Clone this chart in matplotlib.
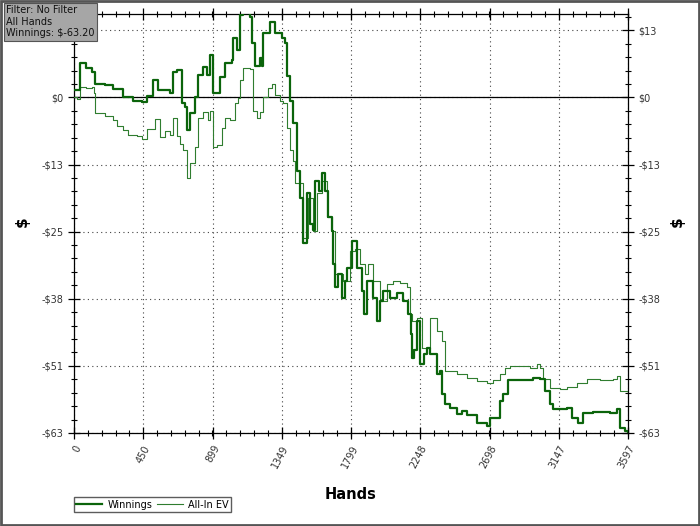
import matplotlib
matplotlib.use("Agg")
import matplotlib.pyplot as plt
from matplotlib.patches import Rectangle
from matplotlib.ticker import AutoMinorLocator, FixedLocator

# ── data (hand number, cumulative $) ────────────────────────────────────────
winnings_hands = [
    0, 39, 80, 117, 136, 200, 253, 318, 383, 442, 474, 513, 545, 578, 623,
    643, 669, 700, 721, 735, 753, 786, 805, 838, 864, 883, 903, 948, 980,
    1026, 1032, 1058, 1078, 1097, 1143, 1156, 1175, 1208, 1221, 1227, 1273,
    1305, 1351, 1370, 1383, 1403, 1422, 1448, 1467, 1487, 1513, 1532, 1552,
    1565, 1590, 1610, 1630, 1649, 1675, 1682, 1695, 1714, 1740, 1760, 1773,
    1805, 1838, 1870, 1880, 1903, 1941, 1970, 1987, 2006, 2052, 2097, 2136,
    2169, 2185, 2195, 2210, 2227, 2247, 2270, 2292, 2312, 2357, 2376, 2389,
    2409, 2441, 2487, 2520, 2552, 2617, 2682, 2701, 2734, 2766, 2786, 2818,
    2961, 2980, 3026, 3058, 3091, 3110, 3201, 3234, 3272, 3305, 3370, 3480,
    3526, 3545, 3578, 3597,
]
winnings = [
    1.3, 6.4, 5.5, 4.7, 2.6, 2.3, 1.5, 0.0, -0.6, -0.9, 0.2, 3.2, 1.3, 1.3,
    0.8, 4.7, 5.1, -1.1, -1.9, -6.2, -3.0, 0.0, 4.2, 5.7, 4.2, 7.9, 0.9,
    3.8, 6.4, 7.0, 11.1, 8.9, 15.5, 15.8, 15.1, 10.2, 6.0, 7.5, 6.0, 12.1,
    14.2, 12.1, 11.1, 10.2, 4.0, -0.6, -4.9, -13.8, -18.9, -27.5, -18.1,
    -23.8, -25.0, -15.7, -17.6, -14.3, -17.6, -22.6, -25.1, -31.3, -35.8,
    -33.2, -37.7, -34.5, -32.1, -27.0, -32.1, -36.4, -40.8, -34.5, -37.7,
    -42.1, -38.3, -36.4, -37.7, -36.8, -38.3, -40.8, -44.5, -49.0, -47.5,
    -42.1, -50.2, -48.3, -47.2, -48.3, -52.1, -51.5, -55.8, -57.7, -58.5,
    -59.6, -59.0, -59.9, -61.3, -61.9, -60.4, -60.4, -57.2, -55.8, -53.2,
    -53.2, -52.8, -53.0, -55.3, -57.7, -58.7, -58.5, -60.4, -61.3, -59.4,
    -59.2, -59.4, -58.7, -62.3, -62.8, -63.2,
]

ev_hands = [
    0, 20, 39, 80, 117, 130, 136, 200, 253, 280, 318, 351, 409, 442, 474,
    506, 526, 558, 591, 623, 643, 669, 688, 708, 734, 753, 786, 805, 838,
    870, 883, 903, 929, 961, 980, 1013, 1045, 1065, 1078, 1097, 1143, 1162,
    1188, 1208, 1227, 1260, 1286, 1305, 1338, 1357, 1383, 1403, 1422, 1435,
    1487, 1519, 1552, 1578, 1610, 1643, 1675, 1695, 1747, 1792, 1825, 1857,
    1889, 1909, 1941, 1987, 2032, 2071, 2117, 2162, 2182, 2195, 2227, 2260,
    2312, 2357, 2389, 2409, 2487, 2552, 2617, 2682, 2721, 2766, 2799, 2831,
    2961, 3006, 3026, 3045, 3091, 3156, 3201, 3266, 3331, 3415, 3500, 3526,
    3545, 3597,
]
all_in_ev = [
    0.0, -0.4, 1.9, 1.7, 1.9, 0.9, -3.0, -3.6, -4.3, -5.3, -6.2, -7.0, -7.2,
    -7.9, -5.9, -5.9, -4.0, -7.5, -6.4, -7.0, -3.8, -7.2, -8.7, -10.0,
    -15.1, -12.3, -9.4, -3.8, -2.8, -4.2, -2.5, -9.4, -9.0, -5.7, -3.8,
    -4.2, -1.1, -0.2, 3.2, 5.5, 5.3, -2.5, -3.8, -2.8, 0.0, 1.7, 2.6, 0.4,
    -0.6, -1.1, -5.7, -10.0, -11.9, -16.2, -26.4, -18.9, -25.1, -18.1,
    -15.7, -22.6, -25.1, -33.2, -34.5, -28.9, -28.5, -31.3, -33.2, -31.3,
    -34.5, -38.3, -35.1, -34.5, -34.9, -35.8, -40.8, -42.1, -41.5, -47.2,
    -41.5, -44.0, -45.8, -51.5, -52.1, -52.8, -53.4, -53.8, -53.2, -52.1,
    -50.9, -50.6, -50.9, -50.2, -50.9, -53.0, -54.7, -54.9, -54.5, -53.8,
    -53.0, -53.2, -53.0, -52.4, -55.3, -55.8,
]

x_ticks = [0, 449.6, 899.3, 1348.9, 1798.5, 2248.1, 2697.8, 3147.4, 3597]
x_tick_labels = ["0", "450", "899", "1349", "1799", "2248", "2698", "3147", "3597"]
y_ticks = [-63.2, -50.56, -37.92, -25.28, -12.64, 0.0, 12.64]
y_tick_labels = ["-$63", "-$51", "-$38", "-$25", "-$13", "$0", "$13"]

_WIN_COLOR = "#0b640b"
_EV_COLOR = "#2f7d2f"
_TEXT_COLOR = "#333333"


def _plot_graph(path: str) -> None:
    fig = plt.figure(figsize=(7.0, 5.26), dpi=100, facecolor="white")
    ax = fig.add_axes([74 / 700, 1 - 433 / 526, 554 / 700, 419 / 526])

    ax.plot(winnings_hands, winnings, color=_WIN_COLOR, lw=1.6,
            drawstyle="steps-post", label="Winnings", zorder=4)
    ax.plot(ev_hands, all_in_ev, color=_EV_COLOR, lw=0.8,
            drawstyle="steps-post", label="All-In EV", zorder=3)
    ax.axhline(0, color="black", lw=0.9, zorder=2)

    ax.set_xlim(0, 3597)
    ax.set_ylim(-63.2, 15.7)

    ax.xaxis.set_major_locator(FixedLocator(x_ticks))
    ax.set_xticklabels(x_tick_labels, rotation=62, ha="right", va="top",
                       rotation_mode="anchor", fontsize=7, color=_TEXT_COLOR)
    ax.yaxis.set_major_locator(FixedLocator(y_ticks))
    ax.set_yticklabels(y_tick_labels, fontsize=7, color=_TEXT_COLOR)
    ax.xaxis.set_minor_locator(AutoMinorLocator(5))
    ax.yaxis.set_minor_locator(AutoMinorLocator(5))

    ax.tick_params(which="major", direction="inout", length=9, width=0.9,
                   top=True, right=True, labelright=True, pad=3)
    ax.tick_params(which="minor", direction="inout", length=5, width=0.8,
                   top=True, right=True)
    for t in ax.yaxis.get_major_ticks():
        t.label2.set_fontsize(7)
        t.label2.set_color(_TEXT_COLOR)
    # the filter box hides the top-left "$13" label in the reference
    ax.yaxis.get_major_ticks()[-1].label1.set_visible(False)

    ax.grid(which="major", linestyle=(0, (1, 3)), color="#444444", lw=0.8)
    for s in ax.spines.values():
        s.set_linewidth(0.9)

    ax.set_xlabel("Hands", fontsize=10.5, fontweight="bold", labelpad=12)
    # "$" axis titles on both sides
    for xpix in (22, 677):
        fig.text(xpix / 700, 1 - 222 / 526, "$", fontsize=11, fontweight="bold",
                 rotation=90, ha="center", va="center")

    ax.legend(loc="lower left", bbox_to_anchor=(74 / 700, 1 - 512 / 526),
              bbox_transform=fig.transFigure, ncol=2, fontsize=7,
              frameon=True, fancybox=False, edgecolor="#333333",
              handlelength=2.6, handletextpad=0.6, columnspacing=0.5,
              borderpad=0.25, borderaxespad=0)

    # filter box in the top-left corner, drawn over the axes
    fig.text(6 / 700, 1 - 5 / 526, "Filter: No Filter\nAll Hands\nWinnings: $-63.20",
             fontsize=7, va="top", ha="left", linespacing=1.2, color="#111111",
             zorder=10,
             bbox=dict(boxstyle="square,pad=0.25", facecolor="#a6a6a6",
                       edgecolor="#555555", lw=0.8))

    # outer frame
    fig.patches.append(Rectangle((0.0015, 0.002), 0.997, 0.996, transform=fig.transFigure,
                                 fill=False, edgecolor="#555555", lw=2))

    fig.savefig(path, dpi=100)
    plt.close(fig)


if __name__ == "__main__":
    _plot_graph("out.png")
